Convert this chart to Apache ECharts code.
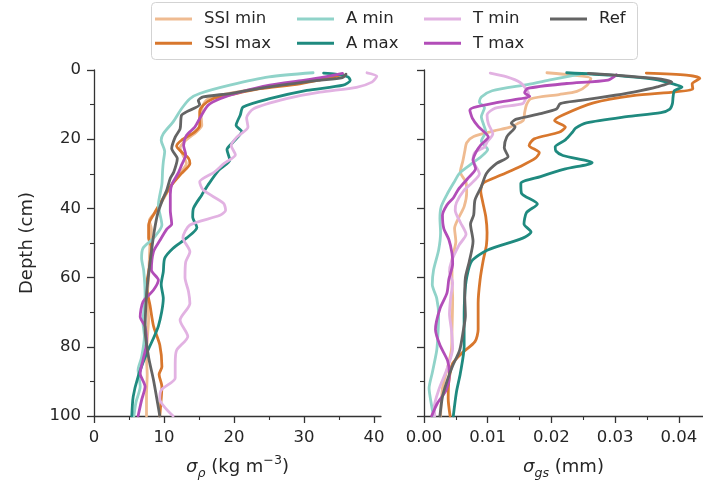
<!DOCTYPE html>
<html>
<head>
<meta charset="utf-8">
<script src="https://cdn.jsdelivr.net/npm/echarts@6/dist/echarts.min.js"></script>
<style>
  html, body { margin: 0; padding: 0; background: #ffffff; }
  #chart { width: 703px; height: 494px; }
</style>
</head>
<body>
<div id="chart"></div>
<script>
// Spread of density (sigma_rho, kg m^-3) and grain size (sigma_gs, mm) against depth (cm).
// Every profile is a list of [value, depth] pairs.

const seriesNames = ['SSI min', 'SSI max', 'A min', 'A max', 'T min', 'T max', 'Ref'];
const seriesColors = ['#efbb91', '#d8772d', '#90d3c9', '#1f8a7f', '#e2b2e2', '#b24db8', '#646464'];

// ---- density spread (left panel) ----
const ssiMinRho = [[35,1.5],[33,2.5],[28,4],[22,5.8],[18,7.3],[16.2,8.5],[15.5,10.5],[15.3,13],[15.4,16],[14.6,18],[13,20.5],[12.3,22.5],[12.8,25],[13.2,27],[12.2,30],[11,33.5],[10,37],[8.8,41],[7.9,43.5],[8.2,46],[8.0,50],[7.9,55],[7.8,60],[7.6,66],[7.8,72],[7.6,78],[7.5,83],[7.6,88],[7.5,94],[7.5,100]];
const ssiMaxRho = [[35.5,1.2],[34.2,2],[29.4,4],[23.7,5.4],[19.4,7.2],[17,8.3],[15.6,10.2],[15.1,12.1],[15.1,16],[14.4,17.9],[12.5,20.3],[11.8,22],[12.5,23.7],[13.5,25.5],[13.7,27],[12.5,29.9],[10.9,33.7],[9.9,37],[8.6,41.5],[7.8,44.8],[7.8,48.6],[8.2,51],[8.0,56],[7.5,62.6],[8.0,68],[8.5,74],[9.4,79.5],[9.7,85.8],[9.3,88],[9.7,91.5],[9.6,95],[9.4,100]];
const aMinRho = [[31.3,0.8],[25,2],[19.4,4.4],[15.1,6.8],[13.7,8.3],[12.5,11.2],[11.3,15],[9.9,18.4],[9.6,20.3],[10.1,23.5],[9.9,26.6],[9.8,29],[9.7,33],[9.2,39],[9.7,44.8],[8.5,48.6],[7.0,51.5],[6.8,54.4],[7.1,58],[7.3,65],[7.0,73],[7.2,77],[6.8,83],[6.3,86.7],[6.6,91.5],[6.0,96],[5.7,100]];
const aMaxRho = [[32.8,0.9],[34.5,1.2],[36.3,2],[36.6,3],[35.6,4.4],[30.4,5.9],[25.1,8.3],[21.3,10.7],[20.9,13],[20.3,16],[21.1,17.8],[19.9,20.8],[19.0,23],[19.4,26],[17.8,29],[16.3,33.2],[15.4,36.1],[14.2,40],[14.1,42.5],[14.7,45.5],[13.2,48.6],[11.3,51.5],[10.1,54.4],[9.9,58.3],[9.6,62],[9.9,66],[9.2,74],[7.5,82],[6.3,88.6],[5.6,94.4],[5.4,100]];
const tMinRho = [[39,0.8],[40.4,1.8],[39.7,3.5],[37.5,5],[32.3,6.4],[27.5,8.3],[22.8,11.2],[21.8,13.8],[22,16.5],[20.4,19.4],[19.6,21.8],[20.2,24.5],[18.6,27],[17.2,29.5],[15.1,32.3],[15.6,34.7],[18.5,38.5],[18.8,40.5],[18,42],[13.7,44.8],[12.7,48.5],[13.7,52.5],[13.1,55.5],[13.0,60],[13.5,64],[13.7,67.5],[12.3,72.3],[13.4,77],[11.8,81],[11.6,85],[11.6,89],[9.6,92.5],[9.4,95],[11.3,100]];
const tMaxRho = [[35.5,1],[33,2],[29.9,3],[25.1,4.4],[20.9,6.4],[18,8.3],[16.3,10.2],[15.1,14],[14.4,16.5],[13.2,18.9],[12.8,21.8],[13.1,24.5],[12.5,27.5],[12,29.9],[11.1,33.2],[10.9,36],[10.9,40.5],[11.1,44.5],[10.4,46],[9.4,49.3],[8.5,52.5],[8.2,57.8],[9.2,60.7],[8.5,63.6],[7.0,67],[6.6,71.3],[7.3,74.2],[7.5,79],[7.0,83.8],[6.6,87.7],[7.3,91.5],[6.8,95.4],[6.3,100]];
const refRho = [[36.0,1.2],[35.5,2.2],[32,3],[25,4.9],[19.4,6.8],[15.6,7.8],[14.9,8.8],[15.1,10],[13.2,12.1],[12.5,13.1],[12.3,17],[11.6,19.4],[11.1,22.7],[11.9,25.6],[11.4,29.5],[10.9,31.3],[10.4,34.7],[9.9,37],[9.1,41.5],[8.6,46.7],[8.2,52.5],[7.8,59],[7.5,65],[7.3,75],[7.8,83],[8.5,89.6],[9.4,100]];

// ---- grain-size spread (right panel) ----
const ssiMinGs = [[0.0193,0.8],[0.0235,1.5],[0.0262,2.4],[0.0256,4.4],[0.024,6.2],[0.0212,7.1],[0.0168,8.3],[0.0161,10],[0.0158,12.3],[0.0156,14.5],[0.0147,15.5],[0.0135,16.5],[0.011,17.6],[0.0078,19.2],[0.0067,21],[0.0064,23.5],[0.0061,26.3],[0.0057,29.5],[0.0066,32.5],[0.0067,35.5],[0.0063,39.5],[0.0055,42.5],[0.0048,45.8],[0.005,49.6],[0.0044,55],[0.0044,61],[0.0045,66],[0.0044,75],[0.0043,80.9],[0.0037,86],[0.0029,92],[0.0026,100]];
const ssiMaxGs = [[0.0349,0.9],[0.0412,1.5],[0.0433,2.4],[0.0421,4],[0.0422,5.5],[0.0395,6.3],[0.0328,7.4],[0.0266,9.5],[0.0218,13],[0.0205,14.6],[0.0222,16.5],[0.0212,18],[0.0173,19.9],[0.0165,21.8],[0.0181,23.9],[0.0175,25.5],[0.0151,27.9],[0.0122,30.3],[0.0093,32.7],[0.0089,35],[0.0092,38],[0.0097,42.4],[0.0099,47],[0.0098,50.6],[0.0093,55],[0.0088,60.7],[0.0085,67.4],[0.0085,75],[0.008,78.5],[0.0059,81.9],[0.0045,84.8],[0.0039,90],[0.0038,95],[0.0041,100]];
const aMinGs = [[0.0245,1.2],[0.02,2.8],[0.0162,4.2],[0.0107,6],[0.009,7.8],[0.0087,9.3],[0.0095,10.9],[0.009,13.5],[0.0094,16],[0.0097,17.8],[0.009,20.5],[0.01,23],[0.009,25],[0.0077,26.8],[0.0056,29.8],[0.0047,32.5],[0.0036,36],[0.0027,39.5],[0.0025,43],[0.0026,47],[0.0023,52],[0.0015,57.8],[0.0013,62],[0.002,66],[0.0023,71],[0.0022,76],[0.002,81],[0.0013,87.5],[0.0008,92],[0.0011,96],[0.0015,100]];
const aMaxGs = [[0.0224,0.8],[0.0293,1.5],[0.0362,2.7],[0.0398,4.4],[0.0405,4.9],[0.0393,6],[0.0391,7.8],[0.039,9.7],[0.0386,11.3],[0.0372,12.3],[0.0318,13.5],[0.0255,15.3],[0.0238,16.8],[0.0233,18],[0.0222,20.2],[0.0206,22.2],[0.0207,23.4],[0.0218,24.7],[0.0264,26.8],[0.0222,28.6],[0.0183,30.8],[0.0152,32.8],[0.0153,35.6],[0.0178,38.7],[0.0161,41.2],[0.0157,44.5],[0.0168,46.8],[0.0155,48.6],[0.01,52],[0.0075,55.2],[0.0067,60],[0.0064,65],[0.0063,72],[0.0063,80],[0.0057,87.7],[0.0051,93],[0.0046,100]];
const tMinGs = [[0.0104,0.9],[0.013,2],[0.0151,3.6],[0.016,5.4],[0.0164,6.8],[0.016,8.2],[0.0155,9.7],[0.0112,11],[0.0099,13],[0.0101,15.5],[0.0108,18.5],[0.0099,20.8],[0.0095,22.3],[0.008,23.8],[0.0077,26],[0.0087,30],[0.0075,32.7],[0.0063,34.7],[0.0051,38.3],[0.0049,40.5],[0.0057,44],[0.0066,47.5],[0.0055,50.6],[0.0043,55.4],[0.004,58.3],[0.0045,61.5],[0.0042,65.5],[0.004,70.5],[0.0043,75],[0.0045,80.5],[0.0036,86.5],[0.0024,92],[0.0016,97.5],[0.0017,100]];
const tMaxGs = [[0.0302,1.4],[0.0289,2.9],[0.0224,3.9],[0.0163,5.3],[0.0158,6.6],[0.0166,7.6],[0.0118,9.3],[0.0072,11.6],[0.0076,14],[0.0085,16.3],[0.0101,19.4],[0.0089,21.7],[0.0082,23.6],[0.0077,26],[0.0081,28.5],[0.0068,31.5],[0.0054,34.5],[0.0046,37],[0.0036,39],[0.0029,42],[0.0031,45.8],[0.0039,49],[0.0044,53],[0.0045,56],[0.0039,60.5],[0.0036,64.5],[0.0025,69],[0.0018,75],[0.0025,79.5],[0.0037,84],[0.004,88],[0.0035,92.5],[0.0021,96.3],[0.0012,100]];
const refGs = [[0.0258,1],[0.0366,2.5],[0.0389,3.5],[0.0366,4.9],[0.0329,6.4],[0.0300,7.3],[0.0246,8.8],[0.0214,9.7],[0.0208,11.3],[0.0183,12.6],[0.0145,14.2],[0.0137,15.4],[0.0143,16.4],[0.013,19.3],[0.0126,22.5],[0.0132,25],[0.0114,27],[0.0098,29.9],[0.009,33.7],[0.008,37.6],[0.0078,41.9],[0.0073,44.5],[0.0077,49.5],[0.0071,55.4],[0.0065,60],[0.0064,65.5],[0.0065,71],[0.0062,75],[0.0056,81],[0.0045,85.5],[0.0036,90],[0.0029,94.4],[0.0025,100]];

// ---- axis ticks ----
const rhoTicks = [0, 10, 20, 30, 40];
const rhoMinorTicks = [5, 15, 25, 35];
const gsTicks = [0, 0.01, 0.02, 0.03, 0.04];
const gsMinorTicks = [0.005, 0.015, 0.025, 0.035];

const rhoProfiles = [ssiMinRho, ssiMaxRho, aMinRho, aMaxRho, tMinRho, tMaxRho, refRho];
const gsProfiles = [ssiMinGs, ssiMaxGs, aMinGs, aMaxGs, tMinGs, tMaxGs, refGs];

const FONT = 'DejaVu Sans';
const INK = '#262626';
const AXIS = '#333333';
const TICK_SIZE = 16.5;
const LABEL_SIZE = 18;

function profileSeries(name, color, data, xIdx, yIdx) {
  return {
    type: 'line', name, data,
    xAxisIndex: xIdx, yAxisIndex: yIdx,
    symbol: 'none', showSymbol: false, smooth: 0.25,
    lineStyle: { width: 2.8, color: color, cap: 'round', join: 'round' },
    itemStyle: { color: color },
    emphasis: { disabled: true },
    animation: false
  };
}

const series = [];
seriesNames.forEach((n, i) => series.push(profileSeries(n, seriesColors[i], rhoProfiles[i], 0, 0)));
seriesNames.forEach((n, i) => series.push(profileSeries(n, seriesColors[i], gsProfiles[i], 2, 1)));

function majorX(grid, max, ticks, fmt, name, rich) {
  return {
    type: 'value', gridIndex: grid, position: 'bottom', min: 0, max: max,
    axisLine: { show: true, onZero: false, lineStyle: { color: AXIS, width: 1.3 } },
    axisTick: { show: true, customValues: ticks, length: 7, lineStyle: { color: AXIS, width: 1.3 } },
    axisLabel: { show: true, customValues: ticks, formatter: fmt, margin: 13,
      color: INK, fontSize: TICK_SIZE, fontFamily: FONT },
    splitLine: { show: false },
    name: name, nameLocation: 'middle', nameGap: 38,
    nameTextStyle: { rich: rich, fontFamily: FONT, color: INK }
  };
}
function minorX(grid, max, ticks) {
  return {
    type: 'value', gridIndex: grid, position: 'bottom', min: 0, max: max,
    axisLine: { show: false, onZero: false },
    axisTick: { show: true, customValues: ticks, length: 4, lineStyle: { color: AXIS, width: 1.1 } },
    axisLabel: { show: false },
    splitLine: { show: false }
  };
}
function depthAxis(grid, showLabels) {
  return {
    type: 'value', gridIndex: grid, inverse: true, min: 0, max: 100, interval: 20,
    axisLine: { show: true, onZero: false, lineStyle: { color: AXIS, width: 1.3 } },
    axisTick: { show: true, length: 7, lineStyle: { color: AXIS, width: 1.3 } },
    minorTick: { show: true, splitNumber: 2, length: 4, lineStyle: { color: AXIS, width: 1.1 } },
    axisLabel: { show: showLabels, margin: 13, color: INK, fontSize: TICK_SIZE, fontFamily: FONT },
    splitLine: { show: false },
    name: showLabels ? 'Depth (cm)' : '', nameLocation: 'middle', nameGap: 58,
    nameTextStyle: { color: INK, fontSize: LABEL_SIZE, fontFamily: FONT }
  };
}

const nameRich = {
  n: { fontSize: LABEL_SIZE, lineHeight: 26, color: INK, fontFamily: FONT },
  i: { fontSize: LABEL_SIZE, lineHeight: 26, color: INK, fontFamily: FONT, fontStyle: 'italic' },
  sub: { fontSize: 12.6, lineHeight: 13, color: INK, fontFamily: FONT, fontStyle: 'italic', verticalAlign: 'bottom' },
  sup: { fontSize: 12.6, lineHeight: 13, color: INK, fontFamily: FONT, verticalAlign: 'top' }
};

function legendColumn(left, names) {
  return {
    data: names, orient: 'vertical', left: left, top: 9,
    icon: 'rect', itemWidth: 37, itemHeight: 3, itemGap: 4.3,
    selectedMode: false, padding: 0,
    textStyle: { fontSize: TICK_SIZE, lineHeight: 20, color: INK, fontFamily: FONT, padding: [0, 0, 0, 7] }
  };
}

const chart = echarts.init(document.getElementById('chart'), null, { renderer: 'canvas' });
chart.setOption({
  animation: false,
  backgroundColor: '#ffffff',
  grid: [
    { left: 94, top: 70, width: 287, height: 346 },
    { left: 424, top: 70, width: 279, height: 346 }
  ],
  xAxis: [
    majorX(0, 41, rhoTicks, v => String(v), '{i|σ}{sub|ρ}{n| (kg m}{sup|\u22123}{n|)}', nameRich),
    minorX(0, 41, rhoMinorTicks),
    majorX(1, 0.0438, gsTicks, v => v.toFixed(2), '{i|σ}{sub|gs}{n| (mm)}', nameRich),
    minorX(1, 0.0438, gsMinorTicks)
  ],
  yAxis: [depthAxis(0, true), depthAxis(1, false)],
  legend: [
    legendColumn(155, ['SSI min', 'SSI max']),
    legendColumn(297, ['A min', 'A max']),
    legendColumn(424, ['T min', 'T max']),
    legendColumn(550, ['Ref'])
  ],
  graphic: [{
    type: 'rect', left: 151, top: 2, z: -10,
    shape: { width: 486, height: 57, r: 4 },
    style: { fill: '#ffffff', stroke: '#d3d3d3', lineWidth: 1 }
  }],
  series: series
});
</script>
</body>
</html>
